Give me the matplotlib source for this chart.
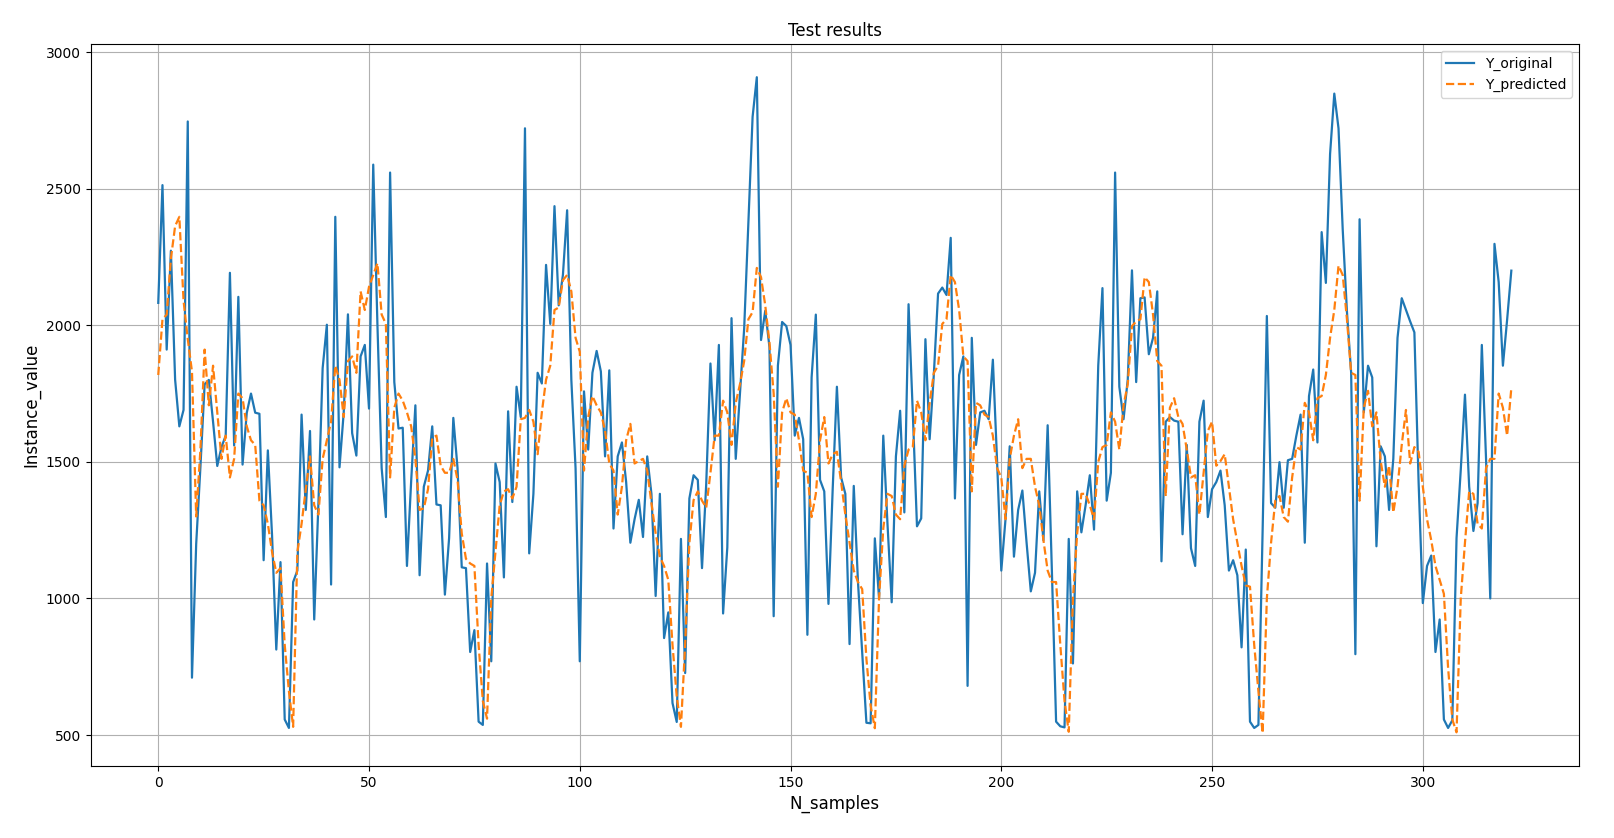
import matplotlib
matplotlib.use("Agg")
import matplotlib.pyplot as plt

y_original = [
    2082, 2513, 1911, 2273, 1801, 1630, 1690, 2746, 710, 1200,
    1480, 1784, 1800, 1647, 1485, 1554, 1596, 2192, 1560, 2104,
    1490, 1680, 1750, 1680, 1676, 1140, 1542, 1230, 813, 1133,
    557, 526, 1060, 1102, 1673, 1324, 1613, 923, 1350, 1843,
    2002, 1051, 2397, 1480, 1681, 2040, 1605, 1523, 1886, 1928,
    1695, 2588, 2000, 1477, 1298, 2559, 1792, 1622, 1625, 1119,
    1430, 1707, 1085, 1409, 1468, 1630, 1344, 1341, 1014, 1221,
    1661, 1477, 1114, 1111, 804, 884, 549, 537, 1128, 770,
    1494, 1426, 1077, 1685, 1353, 1775, 1664, 2721, 1165, 1383,
    1826, 1787, 2221, 2005, 2436, 2073, 2184, 2421, 1800, 1477,
    770, 1758, 1545, 1826, 1906, 1831, 1520, 1835, 1256, 1520,
    1571, 1426, 1204, 1290, 1361, 1225, 1520, 1383, 1009, 1383,
    855, 949, 617, 548, 1218, 727, 1366, 1451, 1434, 1111,
    1420, 1860, 1579, 1928, 945, 1187, 2026, 1511, 1750, 1988,
    2380, 2763, 2908, 1946, 2053, 1920, 935, 1852, 2012, 1997,
    1928, 1596, 1661, 1583, 867, 1809, 2039, 1434, 1392, 980,
    1400, 1775, 1443, 1383, 833, 1412, 1060, 800, 545, 543,
    1220, 1000, 1596, 1273, 986, 1520, 1687, 1315, 2077, 1681,
    1264, 1293, 1949, 1583, 1821, 2116, 2138, 2111, 2320, 1366,
    1818, 1886, 680, 1954, 1562, 1681, 1687, 1656, 1874, 1503,
    1102, 1290, 1557, 1153, 1324, 1395, 1204, 1026, 1094, 1392,
    1213, 1634, 1102, 549, 532, 528, 1218, 762, 1392, 1242,
    1341, 1451, 1252, 1852, 2136, 1358, 1460, 2559, 1775, 1656,
    1801, 2201, 1792, 2099, 2102, 1894, 1954, 2124, 1136, 1647,
    1664, 1651, 1647, 1235, 1562, 1184, 1119, 1647, 1724, 1298,
    1400, 1426, 1468, 1341, 1102, 1140, 1085, 821, 1179, 549,
    526, 537, 1250, 2034, 1349, 1332, 1499, 1332, 1506, 1511,
    1596, 1673, 1204, 1741, 1838, 1571, 2341, 2155, 2627, 2848,
    2721, 2350, 2050, 1826, 796, 2388, 1681, 1852, 1809, 1191,
    1557, 1520, 1324, 1511, 1954, 2099, 2056, 2014, 1974, 1426,
    983, 1119, 1157, 804, 923, 557, 526, 554, 1221, 1470,
    1746, 1409, 1247, 1349, 1928, 1511, 1000, 2298, 2158, 1852,
    2020, 2200,
]

y_predicted = [
    1818, 2022, 2039, 2244, 2363, 2397, 2090, 1950, 1830, 1300,
    1545, 1911, 1707, 1852, 1681, 1511, 1596, 1443, 1511, 1750,
    1733, 1630, 1579, 1562, 1358, 1341, 1273, 1170, 1094, 1111,
    830, 660, 530, 1170, 1273, 1400, 1520, 1341, 1307, 1511,
    1579, 1647, 1852, 1800, 1664, 1869, 1886, 1826, 2124, 2056,
    2141, 2184, 2227, 2039, 2005, 1443, 1698, 1750, 1724, 1681,
    1630, 1511, 1324, 1330, 1400, 1588, 1596, 1486, 1460, 1460,
    1511, 1434, 1238, 1145, 1128, 1119, 830, 625, 560, 1000,
    1170, 1341, 1392, 1400, 1366, 1409, 1656, 1661, 1690, 1647,
    1528, 1681, 1801, 1852, 2056, 2065, 2165, 2184, 2124, 1954,
    1903, 1468, 1664, 1741, 1707, 1681, 1613, 1494, 1468, 1307,
    1409, 1579, 1639, 1494, 1503, 1511, 1468, 1349, 1238, 1153,
    1119, 1068, 830, 642, 530, 830, 1204, 1360, 1392, 1358,
    1332, 1460, 1596, 1596, 1724, 1681, 1562, 1716, 1784, 1869,
    2022, 2048, 2210, 2176, 2073, 1937, 1750, 1409, 1681, 1733,
    1681, 1673, 1579, 1468, 1460, 1298, 1383, 1579, 1664, 1494,
    1528, 1537, 1426, 1307, 1204, 1102, 1060, 1034, 779, 608,
    525, 1000, 1256, 1383, 1375, 1307, 1290, 1486, 1545, 1554,
    1724, 1681, 1579, 1716, 1826, 1852, 2005, 2022, 2184, 2158,
    2056, 1886, 1869, 1392, 1716, 1707, 1673, 1664, 1596, 1477,
    1443, 1290, 1511, 1596, 1656, 1477, 1511, 1511, 1409, 1341,
    1213, 1102, 1060, 1060, 830, 625, 512, 1000, 1238, 1383,
    1383, 1341, 1290, 1500, 1554, 1562, 1681, 1647, 1545, 1707,
    1784, 1997, 2014, 2022, 2176, 2158, 2039, 1869, 1852, 1375,
    1698, 1733, 1664, 1639, 1545, 1443, 1451, 1307, 1460, 1613,
    1647, 1486, 1503, 1528, 1409, 1290, 1204, 1119, 1048, 1043,
    830, 660, 507, 1000, 1204, 1358, 1375, 1298, 1281, 1443,
    1554, 1545, 1716, 1681, 1579, 1733, 1741, 1818, 1954, 2056,
    2218, 2184, 2022, 1826, 1818, 1358, 1698, 1760, 1630, 1681,
    1503, 1409, 1486, 1315, 1409, 1562, 1690, 1494, 1554, 1537,
    1409, 1290, 1213, 1119, 1068, 1017, 745, 557, 510, 1000,
    1204, 1392, 1383, 1273, 1256, 1477, 1511, 1511, 1750, 1698,
    1596, 1770,
]

labels = ["Y_original", "Y_predicted"]

fig = plt.figure(figsize=(16.15, 8.38), dpi=100)
ax = fig.add_axes([0.0561, 0.086, 0.9216, 0.861])
ax.plot(range(len(y_original)), y_original, color="#1f77b4", linewidth=1.6, label=labels[0])
ax.plot(range(len(y_predicted)), y_predicted, color="#ff7f0e", linewidth=1.6, linestyle="--", label=labels[1])
ax.set_title("Test results", fontsize=12)
ax.set_xlabel("N_samples", fontsize=12)
ax.set_ylabel("Instance_value", fontsize=12)
ax.grid(True)
ax.legend(loc="upper right")
fig.savefig("out.png", dpi=100)
